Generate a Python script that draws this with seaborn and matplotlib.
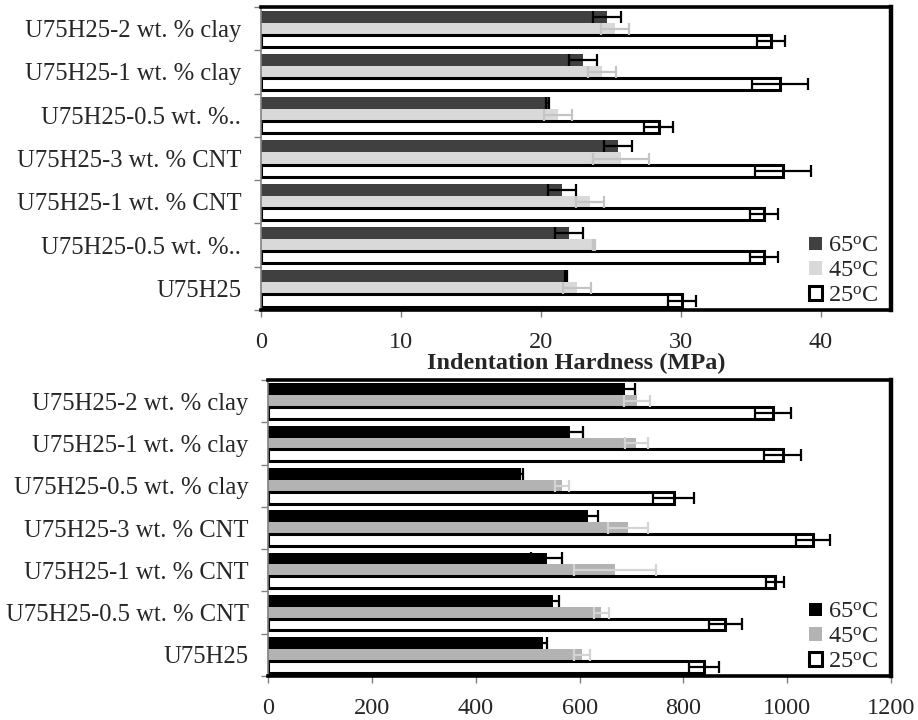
import numpy as np
import pandas as pd
import seaborn as sns
import matplotlib.pyplot as plt
from matplotlib.patches import Patch
from matplotlib.container import BarContainer
from matplotlib.ticker import FixedLocator

# ---------------- data ----------------
samples = ["U75H25-2 wt. % clay", "U75H25-1 wt. % clay", "U75H25-0.5 wt. % clay",
           "U75H25-3 wt. % CNT", "U75H25-1 wt. % CNT", "U75H25-0.5 wt. % CNT", "U75H25"]
top_tick_labels = ["U75H25-2 wt. % clay", "U75H25-1 wt. % clay", "U75H25-0.5 wt. %..",
                   "U75H25-3 wt. % CNT", "U75H25-1 wt. % CNT", "U75H25-0.5 wt. %..", "U75H25"]
bottom_tick_labels = samples
temps = ["65°C", "45°C", "25°C"]
legend_labels = ["65$^{\\mathrm{o}}$C", "45$^{\\mathrm{o}}$C", "25$^{\\mathrm{o}}$C"]

hard_65 = [24.7, 23.0, 20.5, 25.5, 21.5, 22.0, 21.8]
hard_45 = [25.3, 24.4, 21.2, 25.7, 23.5, 23.8, 22.6]
hard_25 = [36.4, 37.1, 28.4, 37.3, 35.9, 35.9, 30.1]
hard_err_65 = [1.0, 1.0, 0.1, 1.0, 1.0, 1.0, 0.1]
hard_err_45 = [1.0, 1.0, 1.0, 2.0, 1.0, 0.1, 1.0]
hard_err_25 = [1.0, 2.0, 1.0, 2.0, 1.0, 1.0, 1.0]

mod_65 = [688, 581, 488, 617, 537, 549, 530]
mod_45 = [710, 709, 566, 693, 668, 642, 605]
mod_25 = [972, 991, 781, 1050, 977, 881, 839]
mod_err_65 = [18, 26, 3, 18, 30, 12, 7]
mod_err_45 = [25, 22, 13, 39, 79, 15, 15]
mod_err_25 = [35, 36, 39, 33, 17, 32, 29]

# ---------------- style ----------------
sns.set_theme(style="white")
plt.rcParams["font.family"] = ["Liberation Serif", "DejaVu Serif"]
plt.rcParams["mathtext.fontset"] = "custom"
plt.rcParams["mathtext.rm"] = "Liberation Serif"
plt.rcParams["mathtext.it"] = "Liberation Serif:italic"

FS_Y = 17.7
FS_X = 17.5
FS_LEG = 17.5


def long_df(v65, v45, v25):
    rows = []
    for t, vals in zip(temps, [v65, v45, v25]):
        for s, v in zip(samples, vals):
            rows.append({"sample": s, "temp": t, "value": v})
    return pd.DataFrame(rows)


def draw(ax, df, fills, err_cols, errs, xlim, xticks, ticklabels):
    sns.barplot(data=df, y="sample", x="value", hue="temp", orient="h",
                order=samples, hue_order=temps, palette=fills, width=0.84,
                errorbar=None, legend=False, ax=ax, saturation=1)
    bars = [c for c in ax.containers if isinstance(c, BarContainer)]
    for i, cont in enumerate(bars):
        for j, p in enumerate(cont.patches):
            if i == 2:
                p.set_facecolor("white")
                p.set_edgecolor("black")
                p.set_linewidth(2.2)
            else:
                p.set_linewidth(0)
            yc = p.get_y() + p.get_height() / 2
            ax.errorbar(p.get_width(), yc, xerr=errs[i][j], color=err_cols[i],
                        capsize=4.2, capthick=1.6, elinewidth=1.6, fmt="none", zorder=5)
    ax.set_xlim(*xlim)
    ax.set_xticks(xticks)
    ax.set_ylim(6.5, -0.5)
    ax.set_yticks(range(len(samples)))
    ax.set_yticklabels(ticklabels)
    ax.yaxis.set_minor_locator(FixedLocator([k - 0.5 for k in range(len(samples) + 1)]))
    ax.tick_params(axis="y", which="major", length=0, labelsize=FS_Y, pad=14)
    ax.tick_params(axis="y", which="minor", left=True, length=5, width=1, color="#808080")
    ax.tick_params(axis="x", which="major", bottom=True, length=5, width=1, color="#808080",
                   labelsize=FS_X, pad=11)
    ax.set_ylabel("")
    for side in ["top", "right", "bottom"]:
        ax.spines[side].set_color("black")
        ax.spines[side].set_linewidth(2.6)
        ax.spines[side].set_visible(True)
    ax.spines["right"].set_linewidth(3.2)
    ax.spines["left"].set_color("#808080")
    ax.spines["left"].set_linewidth(1.2)
    handles = [Patch(facecolor=fills[0], edgecolor="none"),
               Patch(facecolor=fills[1], edgecolor="none"),
               Patch(facecolor="white", edgecolor="black", linewidth=2.2)]
    ax.legend(handles, legend_labels, loc="lower right", bbox_to_anchor=(0.986, 0.0),
              frameon=False, fontsize=FS_LEG,
              handlelength=0.55, handleheight=0.5, handletextpad=0.25, labelspacing=0.15,
              borderaxespad=0.0, borderpad=0.15)


fig = plt.figure(figsize=(9.18, 7.2), dpi=100)
ax1 = fig.add_axes([0.284, 0.5694, 0.6866, 0.4208])
ax2 = fig.add_axes([0.292, 0.0611, 0.6787, 0.411])

draw(ax1, long_df(hard_65, hard_45, hard_25), ["#404040", "#d9d9d9", "white"],
     ["black", "#c4c4c4", "black"], [hard_err_65, hard_err_45, hard_err_25],
     (0, 45), [0, 10, 20, 30, 40], top_tick_labels)
ax1.set_xlabel("Indentation Hardness (MPa)", fontsize=17.5, fontweight="bold", labelpad=0)

draw(ax2, long_df(mod_65, mod_45, mod_25), ["#000000", "#b3b3b3", "white"],
     ["black", "#d4d4d4", "black"], [mod_err_65, mod_err_45, mod_err_25],
     (0, 1200), [0, 200, 400, 600, 800, 1000, 1200], bottom_tick_labels)
ax2.set_xlabel("")

fig.savefig("out.png", dpi=100)
